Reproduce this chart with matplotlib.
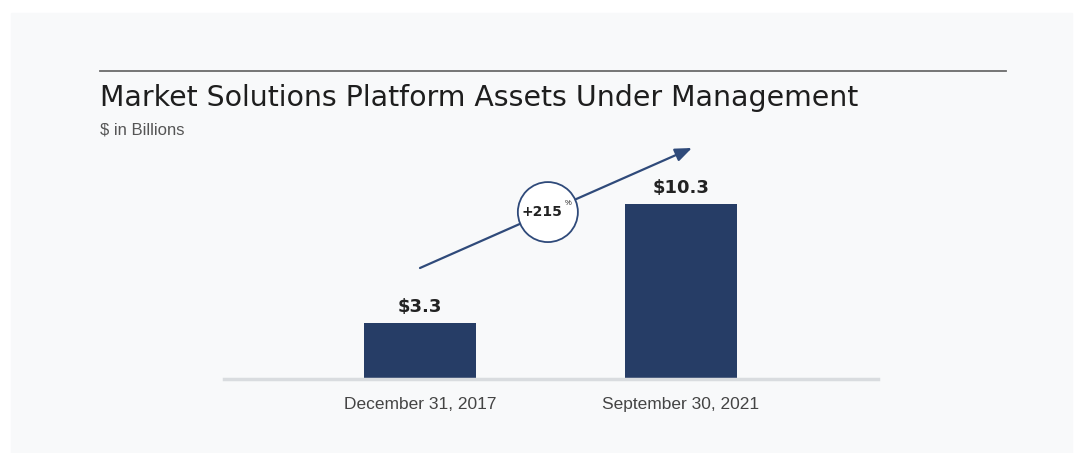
import matplotlib.pyplot as plt
from matplotlib.patches import Rectangle, Ellipse

fechas = ["December 31, 2017", "September 30, 2021"]
activos = [3.3, 10.3]
etiquetas = ["$3.3", "$10.3"]
crecimiento = "+215"

azul = "#263d66"
fondo = "#f8f9fa"

plt.rcParams["font.family"] = ["Liberation Sans", "DejaVu Sans"]

fig = plt.figure(figsize=(10.74, 4.53), dpi=100, facecolor="white")

# panel gris claro de fondo
fig.patches.append(Rectangle((11 / 1074, 0), 1 - 13 / 1074, 1 - 13 / 453,
                             transform=fig.transFigure, color=fondo, zorder=-10))

# linea superior y titulos
fig.add_artist(plt.Line2D([100 / 1074, 1006 / 1074], [1 - 71 / 453, 1 - 71 / 453],
                          color="#6b6b6b", lw=1.3))
fig.text(100 / 1074, 1 - 98 / 453, "Market Solutions Platform Assets Under Management",
         fontsize=20.4, color="#1e1e1e", va="center", ha="left", family="DejaVu Sans")
fig.text(100 / 1074, 1 - 130 / 453, "$ in Billions", fontsize=12,
         color="#555555", va="center", ha="left")

ax = fig.add_axes([224 / 1074, 1 - 379 / 453, 654 / 1074, 239 / 453])
ax.set_facecolor("none")

x = list(range(len(fechas)))
barras = ax.bar(x, activos, width=0.43, color=azul)
ax.set_xlim(-0.751, 1.755)
ax.set_ylim(0, 14.06)

for b, t in zip(barras, etiquetas):
    ax.text(b.get_x() + b.get_width() / 2, b.get_height() + 0.95, t,
            ha="center", va="center", fontsize=13, fontweight="bold",
            color="#222222", family="DejaVu Sans")

for s in ["top", "right", "left"]:
    ax.spines[s].set_visible(False)
ax.spines["bottom"].set_color("#d9dcdf")
ax.spines["bottom"].set_linewidth(2.5)
ax.set_yticks([])
ax.set_xticks(x)
ax.set_xticklabels(fechas, fontsize=12.5, color="#444444")
ax.tick_params(axis="x", length=0, pad=13)

# flecha de crecimiento con circulo
ax.annotate("", xy=(1.042, 13.59), xytext=(0.0, 6.53),
            arrowprops=dict(arrowstyle="-|>,head_length=1.0,head_width=0.4",
                            color="#2f4a7a", lw=1.6, shrinkA=0, shrinkB=0))
ax.add_patch(Ellipse((0.49, 9.82), 0.23, 3.53, facecolor="white",
                     edgecolor="#2f4a7a", lw=1.3, zorder=5))
ax.text(0.469, 9.82, crecimiento, ha="center", va="center", fontsize=10,
        fontweight="bold", color="#222222", zorder=6, family="DejaVu Sans")
ax.text(0.555, 10.3, "%", ha="left", va="center", fontsize=5.5,
        color="#222222", zorder=6)

fig.savefig("out.png", dpi=100, facecolor="white")
